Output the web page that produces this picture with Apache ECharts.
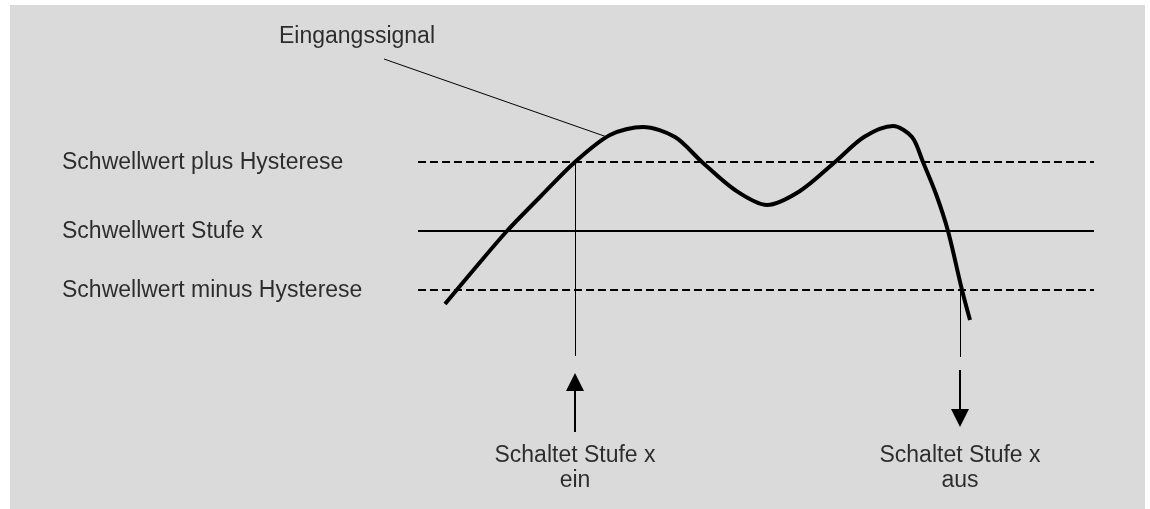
<!DOCTYPE html>
<html>
<head>
    <meta charset="utf-8">
    <script src="https://cdn.jsdelivr.net/npm/echarts@6/dist/echarts.min.js"></script>
    <style>
        html, body { margin: 0; padding: 0; background: #fff; }
    </style>
</head>
<body>
    <div id="hyst" style="width: 1150px;height:509px;"></div>
    <script type="text/javascript">
        // Eingangssignal (x, y in Bildkoordinaten, y nach unten)
        var signalX = [445, 476, 507, 541, 575, 610, 643, 675, 702, 735, 767, 800, 835, 864, 893, 912, 923, 936, 948, 962, 970];
        var signalY = [304, 267, 231, 196, 162, 135, 127, 137, 162, 190, 205, 191, 162, 137, 126, 137, 162, 194, 231, 290, 320];

        // Schwellwerte
        var levelNames = ['Schwellwert plus Hysterese', 'Schwellwert Stufe x', 'Schwellwert minus Hysterese'];
        var levelValues = [162, 231, 290];
        var levelDashed = [true, false, true];
        var levelRange = [418, 1094];

        // Schaltpunkte
        var switchX = [575, 960];
        var switchLevel = [162, 290];
        var switchLineEnd = [356, 357];
        var arrowFrom = [432, 370];
        var arrowTo = [382, 418];
        var switchText = ['Schaltet Stufe x\nein', 'Schaltet Stufe x\naus'];
        var switchTextY = [468, 468];

        // Beschriftung Eingangssignal
        var signalLabel = 'Eingangssignal';
        var signalLabelPos = [357, 37];
        var leaderFrom = [384, 59];
        var leaderTo = [607, 137];

        var fontFamily = 'Liberation Sans';
        var chart = echarts.init(document.getElementById('hyst'));

        var signalData = signalX.map(function (x, i) { return [x, signalY[i]]; });

        var levelSeries = levelValues.map(function (v, i) {
            return {
                type: 'lines', coordinateSystem: 'cartesian2d', silent: true,
                lineStyle: { color: '#000', width: 2, type: levelDashed[i] ? [8, 4] : 'solid', opacity: 1 },
                data: [{ coords: [[levelRange[0], v], [levelRange[1], v]] }]
            };
        });

        var option = {
            animation: false,
            backgroundColor: '#fff',
            graphic: [{
                type: 'rect', z: -10,
                shape: { x: 10, y: 5, width: 1135, height: 510 },
                style: { fill: '#dadada' }
            }],
            grid: { left: 0, right: 0, top: 0, bottom: 0 },
            xAxis: { type: 'value', min: 0, max: 1150, show: false },
            yAxis: { type: 'value', min: 0, max: 509, inverse: true, show: false },
            series: levelSeries.concat([
                {
                    // senkrechte Linien an den Schaltpunkten + Bezugslinie
                    type: 'lines', coordinateSystem: 'cartesian2d', silent: true,
                    lineStyle: { color: '#000', width: 1, opacity: 1 },
                    data: switchX.map(function (x, i) {
                        return { coords: [[x, switchLevel[i]], [x, switchLineEnd[i]]] };
                    }).concat([{ coords: [leaderFrom, leaderTo] }])
                },
                {
                    // Pfeile
                    type: 'lines', coordinateSystem: 'cartesian2d', silent: true,
                    symbol: ['none', 'triangle'], symbolSize: 18,
                    lineStyle: { color: '#000', width: 2, opacity: 1 },
                    itemStyle: { color: '#000' },
                    data: switchX.map(function (x, i) {
                        return { coords: [[x, arrowFrom[i]], [x, arrowTo[i]]] };
                    })
                },
                {
                    type: 'line', silent: true, smooth: 0.3,
                    showSymbol: false, symbol: 'none',
                    lineStyle: { color: '#000', width: 4, cap: 'butt' },
                    data: signalData
                },
                {
                    // Texte
                    type: 'scatter', silent: true, symbolSize: 1,
                    itemStyle: { color: 'rgba(0,0,0,0)' },
                    label: {
                        show: true, position: 'inside', color: '#000',
                        fontFamily: fontFamily, fontSize: 23, lineHeight: 25,
                        align: 'center', verticalAlign: 'middle',
                        formatter: function (p) { return p.name; }
                    },
                    data: [{ name: signalLabel, value: signalLabelPos }].concat(
                        switchX.map(function (x, i) {
                            return { name: switchText[i], value: [x, switchTextY[i]] };
                        }),
                        levelValues.map(function (v, i) {
                            return {
                                name: levelNames[i], value: [62, v + 1],
                                label: { align: 'left' }
                            };
                        })
                    )
                }
            ])
        };
        chart.setOption(option);
    </script>
</body>
</html>
